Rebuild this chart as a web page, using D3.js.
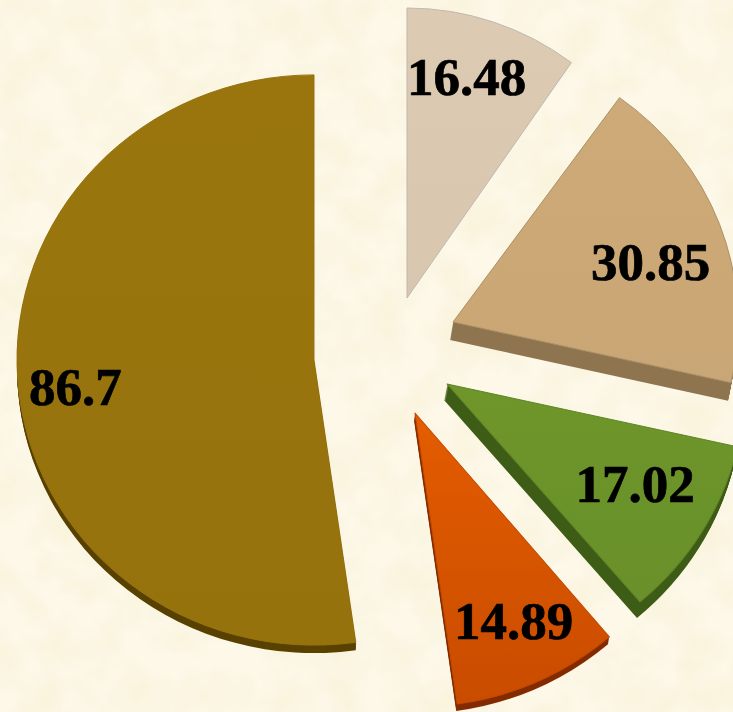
<!DOCTYPE html>
<html><head><meta charset="utf-8">
<style>html,body{margin:0;padding:0;background:#fbf4e0;overflow:hidden}svg{display:block}</style>
<script src="https://cdn.jsdelivr.net/npm/d3@7"></script></head><body>
<svg id="c" width="733" height="712"></svg>
<script>
const values = [16.48, 30.85, 17.02, 14.89, 86.7];
const labels = ["16.48", "30.85", "17.02", "14.89", "86.7"];
const faceColors = [["#dccab2","#d8c6ae"],["#cdaa78","#c9a674"],["#6e962a","#69902a"],["#e45c06","#c94c00"],["#9a7510","#96720e"]];
const sideColors = ["#b9a88f","#8f7550","#3f5c18","#842c02","#5a4204"];
const edgeColors = ["#bdb8b0","#ac9068","#5f8426","#c04a02","#96720e"];
const apexX = [407, 453, 447, 415, 314];
const apexY = [298, 322, 384, 413, 360];
const radii = [290, 285, 292, 294, 297];
const xScale = [0.97, 1, 1.02, 1.02, 1];
const yScale = [1, 0.97, 0.98, 1, 0.96];
const depths = [0, 18, 16, 7, 8];
const sideShift = [0, -3, -3, -1, 0];
const labelX = [407, 591, 575.5, 454, 29];
const labelY = [95, 280, 502, 639, 405];

const svg = d3.select("#c");
const defs = svg.append("defs");
const tex = defs.append("filter").attr("id","paper").attr("x",0).attr("y",0).attr("width","100%").attr("height","100%");
tex.append("feTurbulence").attr("type","fractalNoise").attr("baseFrequency",0.025).attr("numOctaves",3).attr("seed",7);
tex.append("feColorMatrix").attr("type","matrix").attr("values","0 0 0 0 0.95  0 0 0 0 0.90  0 0 0 0 0.72  2.2 0 0 0 -0.75");
tex.append("feComposite").attr("in2","SourceGraphic").attr("operator","over");
const soft = defs.append("filter").attr("id","soft");
soft.append("feGaussianBlur").attr("stdDeviation",0.6);

values.forEach((v,i)=>{
  const g = defs.append("linearGradient").attr("id","f"+i).attr("x1",0).attr("y1",0).attr("x2",0).attr("y2",1);
  g.append("stop").attr("offset","0%").attr("stop-color",faceColors[i][0]);
  g.append("stop").attr("offset","100%").attr("stop-color",faceColors[i][1]);
});

svg.append("rect").attr("width",733).attr("height",712).attr("fill","#fdf8e8").attr("filter","url(#paper)");

const pie = d3.pie().sort(null).value(d=>d);
const arcs = pie(values);
const arc = d3.arc().innerRadius(0);

const slices = svg.selectAll("g.slice").data(arcs).join("g").attr("class","slice")
  .attr("filter","url(#soft)");

slices.each(function(d,i){
  const g = d3.select(this);
  const path = arc({...d, outerRadius:radii[i]});
  const steps = depths[i];
  for(let k=steps;k>=1;k--){
    g.append("path").attr("d",path).attr("fill",sideColors[i])
      .attr("transform",`translate(${apexX[i]+sideShift[i]*k/steps},${apexY[i]+k}) scale(${xScale[i]},${yScale[i]})`);
  }
  g.append("path").attr("d",path).attr("fill",`url(#f${i})`)
    .attr("stroke",edgeColors[i]).attr("stroke-width",1).attr("stroke-linejoin","round")
    .attr("transform",`translate(${apexX[i]},${apexY[i]}) scale(${xScale[i]},${yScale[i]})`);
});

svg.selectAll("text.v").data(labels).join("text").attr("class","v")
  .attr("x",(d,i)=>labelX[i]).attr("y",(d,i)=>labelY[i])
  .attr("font-family","'Liberation Serif',serif").attr("font-weight","bold")
  .attr("font-size",53).attr("fill","#000").attr("stroke","#000").attr("stroke-width",0.7).text(d=>d);
</script></body></html>
